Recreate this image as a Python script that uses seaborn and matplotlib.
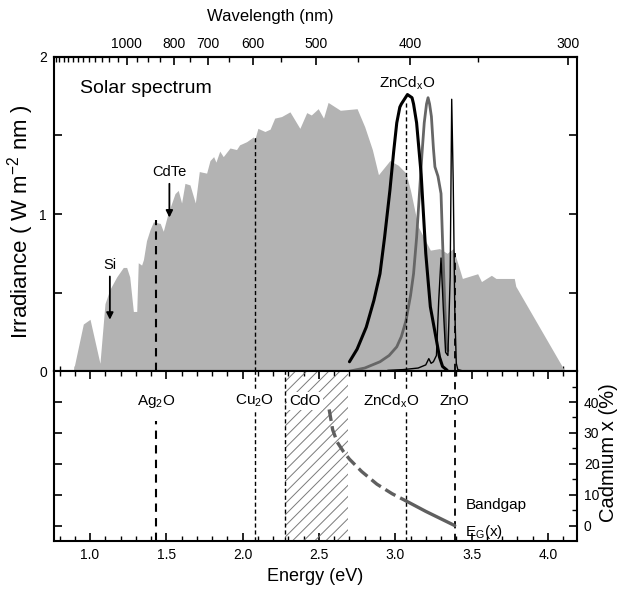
import numpy as np
import matplotlib
matplotlib.use("Agg")
import matplotlib.pyplot as plt
import seaborn as sns
from matplotlib.ticker import FixedLocator, MultipleLocator, NullFormatter, FormatStrFormatter

# AM1.5 solar spectrum (energy eV, irradiance W m-2 nm-1)
solar_E = [0.89, 0.956, 1.0, 1.065, 1.098, 1.13, 1.175, 1.218, 1.24, 1.26, 1.284, 1.306,
           1.316, 1.338, 1.35, 1.37, 1.393, 1.415, 1.46, 1.48, 1.51, 1.557, 1.578, 1.60,
           1.622, 1.655, 1.69, 1.716, 1.764, 1.786, 1.81, 1.825, 1.85, 1.873, 1.917, 1.96,
           1.98, 2.026, 2.07, 2.08, 2.10, 2.146, 2.18, 2.21, 2.255, 2.31, 2.375, 2.42,
           2.45, 2.495, 2.53, 2.56, 2.64, 2.75, 2.80, 2.85, 2.89, 2.965, 3.02, 3.07, 3.10,
           3.15, 3.23, 3.29, 3.34, 3.38, 3.44, 3.54, 3.565, 3.63, 3.66, 3.78, 3.79, 4.10, 4.11]
solar_I = [0.0, 0.30, 0.33, 0.05, 0.43, 0.52, 0.60, 0.66, 0.66, 0.60, 0.38, 0.38,
           0.69, 0.675, 0.71, 0.83, 0.90, 0.95, 0.94, 0.89, 1.00, 1.13, 1.15, 1.07,
           1.195, 1.185, 1.07, 1.27, 1.26, 1.34, 1.365, 1.33, 1.40, 1.365, 1.42, 1.41,
           1.44, 1.46, 1.49, 1.475, 1.545, 1.525, 1.54, 1.61, 1.62, 1.65, 1.545, 1.645,
           1.63, 1.67, 1.61, 1.71, 1.66, 1.67, 1.555, 1.41, 1.25, 1.34, 1.31, 1.26, 1.15,
           0.92, 0.77, 0.78, 0.75, 0.78, 0.59, 0.62, 0.57, 0.61, 0.59, 0.59, 0.54, 0.02, 0.0]

# ZnCdxO emission (thick black)
pl1_E = [2.70, 2.75, 2.81, 2.86, 2.90, 2.93, 2.965, 2.99, 3.01, 3.03, 3.04, 3.06, 3.08,
         3.095, 3.11, 3.12, 3.14, 3.15, 3.17, 3.18, 3.20, 3.23, 3.26, 3.29, 3.31, 3.34]
pl1_I = [0.06, 0.14, 0.28, 0.45, 0.62, 0.85, 1.15, 1.40, 1.58, 1.68, 1.70, 1.73, 1.76,
         1.75, 1.74, 1.70, 1.58, 1.47, 1.25, 1.08, 0.75, 0.41, 0.25, 0.09, 0.03, 0.006]

# ZnCdxO emission, lower x (grey)
pl2_E = [2.70, 2.80, 2.90, 2.96, 3.01, 3.04, 3.07, 3.10, 3.12, 3.14, 3.16, 3.175, 3.19,
         3.205, 3.215, 3.225, 3.237, 3.25, 3.26, 3.28, 3.30, 3.31, 3.325, 3.335, 3.345]
pl2_I = [0.0, 0.02, 0.06, 0.10, 0.155, 0.22, 0.32, 0.48, 0.62, 0.85, 1.15, 1.38, 1.58,
         1.70, 1.74, 1.70, 1.62, 1.42, 1.30, 1.24, 1.13, 0.83, 0.41, 0.18, 0.13]

# ZnO emission (thin black)
pl3_E = [2.95, 3.05, 3.15, 3.20, 3.22, 3.235, 3.25, 3.27, 3.285, 3.30, 3.315, 3.33,
         3.345, 3.36, 3.37, 3.38, 3.39, 3.40, 3.41, 3.45, 3.60]
pl3_I = [0.005, 0.01, 0.02, 0.04, 0.08, 0.05, 0.06, 0.10, 0.45, 0.72, 0.40, 0.12,
         0.10, 0.60, 1.73, 1.20, 0.40, 0.05, 0.01, 0.0, 0.0]

# bandgap vs cadmium content
gap_dash_E = [2.567, 2.59, 2.62, 2.66, 2.70, 2.78, 2.88, 2.98, 3.07]
gap_dash_x = [37.6, 31.0, 27.0, 24.0, 21.5, 17.5, 13.4, 10.3, 8.0]
gap_solid_E = [3.07, 3.20, 3.39]
gap_solid_x = [8.0, 4.6, 0.0]

# material bandgaps (eV) and height of their markers in the top panel
gap_names = ["Ag$_2$O", "Cu$_2$O", "ZnCd$_x$O", "ZnO"]
gap_values = [1.43, 2.08, 3.07, 3.39]
gap_tops = [0.96, 1.49, 1.72, 0.75]
cdo_gap = 2.28
cdo_range = (2.28, 2.69)

wl_major = [1000, 800, 700, 600, 500, 400, 300]

sns.set_theme(style="ticks")
plt.rcParams["font.family"] = ["Liberation Sans", "DejaVu Sans"]
plt.rcParams["mathtext.default"] = "regular"
plt.rcParams["hatch.linewidth"] = 0.7
for k in ("text.color", "axes.labelcolor", "xtick.color", "ytick.color", "axes.edgecolor"):
    plt.rcParams[k] = "black"

fig = plt.figure(figsize=(6.18, 5.92), dpi=100)
ax1 = fig.add_axes([0.0874, 0.373, 0.846, 0.531])
ax2 = fig.add_axes([0.0874, 0.0861, 0.846, 0.287], sharex=ax1)

xlim = (0.764, 4.19)

# ---- top panel
ax1.fill_between(solar_E, solar_I, color="#b3b3b3", lw=0, zorder=1)
sns.lineplot(x=pl2_E, y=pl2_I, ax=ax1, color="#666666", lw=2.0, sort=False, estimator=None, zorder=3)
sns.lineplot(x=pl1_E, y=pl1_I, ax=ax1, color="black", lw=2.2, sort=False, estimator=None, zorder=4)
sns.lineplot(x=pl3_E, y=pl3_I, ax=ax1, color="black", lw=1.0, sort=False, estimator=None, zorder=4)

styles = [(0, (4, 3)), (0, (3, 2)), (0, (3, 2)), (0, (4, 3))]
widths = [1.5, 1.0, 1.0, 1.3]
for e, top, ls, lw in zip(gap_values, gap_tops, styles, widths):
    ax1.vlines(e, 0, top, colors="black", linestyles=[ls], lw=lw, zorder=5)

ax1.text(0.935, 1.80, "Solar spectrum", fontsize=14, ha="left", va="center")
ax1.text(3.08, 1.83, "ZnCd$_x$O", fontsize=11, ha="center", va="center")
ax1.text(1.13, 0.675, "Si", fontsize=10.5, ha="center", va="center")
ax1.annotate("", xy=(1.13, 0.31), xytext=(1.13, 0.62),
             arrowprops=dict(arrowstyle="-|>", color="black", lw=1.3, mutation_scale=10))
ax1.text(1.52, 1.27, "CdTe", fontsize=10.5, ha="center", va="center")
ax1.annotate("", xy=(1.52, 0.96), xytext=(1.52, 1.21),
             arrowprops=dict(arrowstyle="-|>", color="black", lw=1.3, mutation_scale=10))

ax1.set_xlim(*xlim)
ax1.set_ylim(0, 2)
ax1.yaxis.set_major_locator(FixedLocator([0, 1, 2]))
ax1.yaxis.set_minor_locator(FixedLocator([0.5, 1.5]))
ax1.xaxis.set_major_locator(MultipleLocator(0.5))
ax1.xaxis.set_minor_locator(MultipleLocator(0.1))
ax1.tick_params(axis="both", which="both", direction="in", top=False, right=True,
                labelbottom=False, labelsize=10, pad=5)
ax1.tick_params(which="major", length=6, width=1.2)
ax1.tick_params(which="minor", length=3.5, width=1.0)
ax1.tick_params(axis="y", which="minor", length=6, width=1.2)
ax1.set_xlabel("")
ax1.set_ylabel("")
fig.text(21 / 618, 1 - 222 / 592, "Irradiance ( W m$^{-2}$ nm )", fontsize=16,
         rotation=90, ha="center", va="center")


def e2l(x):
    x = np.asarray(x, dtype=float)
    with np.errstate(divide="ignore", invalid="ignore"):
        return 1239.84 / x


sec = ax1.secondary_xaxis("top", functions=(e2l, e2l))
sec.xaxis.set_major_locator(FixedLocator(wl_major))
sec.xaxis.set_minor_locator(FixedLocator(np.arange(300, 1650, 50)))
sec.xaxis.set_minor_formatter(NullFormatter())
sec.tick_params(which="both", direction="in", labelsize=10, pad=4)
sec.tick_params(which="major", length=6, width=1.2)
sec.tick_params(which="minor", length=3.5, width=1.0)
fig.text(270 / 618, 1 - 16 / 592, "Wavelength (nm)", fontsize=12, ha="center", va="center")

# ---- bottom panel
ax2.axvspan(*cdo_range, facecolor="none", edgecolor="#7a7a7a", hatch="///", lw=0, zorder=1)
ax2.vlines(cdo_gap, -5, 50, colors="black", linestyles=[(0, (3, 2))], lw=1.0, zorder=2)
ax2.vlines(gap_values[0], -5, 34, colors="black", linestyles=[styles[0]], lw=widths[0], zorder=2)
for e, ls, lw in zip(gap_values[1:], styles[1:], widths[1:]):
    ax2.vlines(e, -5, 50, colors="black", linestyles=[ls], lw=lw, zorder=2)

sns.lineplot(x=gap_dash_E, y=gap_dash_x, ax=ax2, color="#5f5f5f", lw=2.4, sort=False,
             estimator=None, linestyle=(0, (3.5, 1.6)), zorder=3)
sns.lineplot(x=gap_solid_E, y=gap_solid_x, ax=ax2, color="#5f5f5f", lw=2.4, sort=False,
             estimator=None, zorder=3)

box = dict(facecolor="white", edgecolor="none", pad=1.5)
label_y = 40.3
for name, e in zip(gap_names, gap_values):
    dx = -0.10 if name.startswith("ZnCd") else 0.0
    ax2.text(e + dx, label_y, name, fontsize=11, ha="center", va="center", bbox=box, zorder=4)
ax2.text(2.305, label_y, "CdO", fontsize=11, ha="left", va="center", bbox=box, zorder=4)
ax2.text(3.46, 6.8, "Bandgap", fontsize=11, ha="left", va="center")
ax2.text(3.46, -2.2, "E$_G$(x)", fontsize=11, ha="left", va="center")

ax2.set_ylim(-5, 50)
ax2.yaxis.set_major_locator(FixedLocator([0, 10, 20, 30, 40]))
ax2.yaxis.set_minor_locator(FixedLocator([5, 15, 25, 35, 45]))
ax2.tick_params(axis="both", which="both", direction="in", top=True, right=True,
                left=True, labelleft=False, labelright=True, labelsize=10, pad=5)
ax2.tick_params(axis="y", which="minor", left=False)
ax2.tick_params(which="major", length=6, width=1.2)
ax2.tick_params(which="minor", length=3.5, width=1.0)
ax2.set_ylabel("")
fig.text(609 / 618, 1 - 453 / 592, "Cadmium x (%)", fontsize=14.5,
         rotation=90, ha="center", va="center")
ax2.set_xlabel("Energy (eV)", fontsize=13, labelpad=4)
ax2.xaxis.set_major_formatter(FormatStrFormatter("%.1f"))

for a in (ax1, ax2):
    for s in a.spines.values():
        s.set_linewidth(1.5)
        s.set_color("black")
sec.spines["top"].set_linewidth(1.5)

fig.savefig("out.png", dpi=100)
